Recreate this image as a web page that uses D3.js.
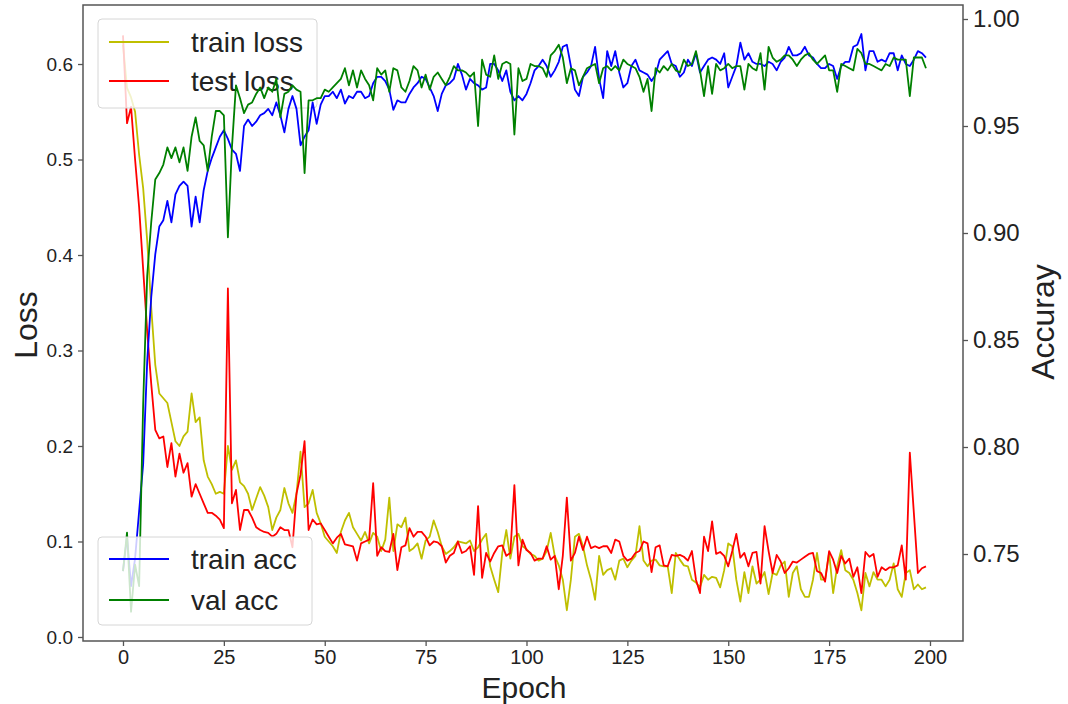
<!DOCTYPE html>
<html><head><meta charset="utf-8">
<script src="https://cdn.jsdelivr.net/npm/d3@7"></script>
<style>
body{margin:0;background:#fff;}
svg{display:block;}
text{font-family:"Liberation Sans",Arial,Helvetica,sans-serif;fill:#222;}
</style>
</head><body>
<svg id="chart" width="1068" height="704"></svg>
<script>
// ---- data ----
const epochs = d3.range(200);
const xTicks = [0, 25, 50, 75, 100, 125, 150, 175, 200];
const lossTicks = [0.0, 0.1, 0.2, 0.3, 0.4, 0.5, 0.6];
const accTicks = [0.75, 0.80, 0.85, 0.90, 0.95, 1.00];
const seriesNames = ["train loss", "test loss", "train acc", "val acc"];

const trainLoss = [
0.620,0.575,0.565,0.550,0.505,0.470,0.415,0.345,0.285,0.255,
0.250,0.245,0.225,0.205,0.200,0.210,0.215,0.255,0.225,0.230,
0.185,0.168,0.160,0.150,0.152,0.150,0.200,0.175,0.185,0.162,
0.158,0.150,0.133,0.145,0.157,0.148,0.136,0.112,0.125,0.133,
0.156,0.140,0.130,0.150,0.194,0.136,0.140,0.154,0.130,0.119,
0.105,0.100,0.095,0.088,0.110,0.122,0.130,0.115,0.108,0.101,
0.110,0.098,0.109,0.105,0.090,0.102,0.146,0.090,0.118,0.115,
0.125,0.090,0.093,0.098,0.082,0.101,0.105,0.122,0.110,0.095,
0.087,0.090,0.094,0.100,0.099,0.098,0.101,0.090,0.094,0.102,
0.108,0.074,0.060,0.047,0.088,0.112,0.082,0.105,0.108,0.095,
0.092,0.087,0.085,0.080,0.082,0.090,0.109,0.085,0.075,0.060,
0.028,0.060,0.105,0.108,0.095,0.075,0.060,0.039,0.085,0.065,
0.070,0.072,0.060,0.080,0.082,0.073,0.080,0.085,0.116,0.080,
0.074,0.080,0.081,0.075,0.074,0.074,0.046,0.088,0.081,0.075,
0.074,0.060,0.057,0.052,0.065,0.060,0.063,0.062,0.052,0.070,
0.098,0.095,0.060,0.037,0.068,0.046,0.074,0.056,0.060,0.068,
0.045,0.067,0.065,0.075,0.079,0.042,0.067,0.074,0.050,0.042,
0.042,0.060,0.088,0.060,0.060,0.088,0.046,0.074,0.091,0.070,
0.067,0.060,0.046,0.028,0.067,0.053,0.068,0.060,0.060,0.053,
0.060,0.077,0.050,0.042,0.067,0.070,0.050,0.055,0.050,0.052];

const testLoss = [
0.630,0.538,0.555,0.500,0.450,0.385,0.320,0.265,0.217,0.208,
0.210,0.178,0.203,0.168,0.192,0.172,0.182,0.147,0.160,0.150,
0.140,0.130,0.130,0.127,0.123,0.114,0.365,0.140,0.154,0.112,
0.133,0.133,0.125,0.115,0.112,0.110,0.109,0.105,0.108,0.115,
0.112,0.112,0.094,0.150,0.170,0.205,0.112,0.123,0.118,0.119,
0.112,0.105,0.098,0.104,0.108,0.097,0.096,0.095,0.080,0.098,
0.100,0.102,0.161,0.085,0.094,0.090,0.089,0.108,0.070,0.094,
0.096,0.114,0.105,0.110,0.110,0.105,0.096,0.100,0.099,0.095,
0.078,0.085,0.088,0.100,0.088,0.090,0.095,0.065,0.137,0.062,
0.088,0.079,0.088,0.095,0.096,0.085,0.088,0.159,0.075,0.102,
0.091,0.088,0.080,0.082,0.082,0.095,0.081,0.085,0.050,0.085,
0.146,0.080,0.088,0.105,0.091,0.105,0.093,0.095,0.093,0.095,
0.095,0.088,0.102,0.100,0.085,0.080,0.082,0.088,0.090,0.100,
0.098,0.068,0.094,0.096,0.075,0.074,0.086,0.085,0.086,0.084,
0.080,0.090,0.060,0.046,0.105,0.090,0.121,0.087,0.089,0.085,
0.074,0.090,0.108,0.083,0.088,0.074,0.088,0.089,0.056,0.116,
0.090,0.067,0.086,0.079,0.067,0.072,0.079,0.078,0.081,0.084,
0.087,0.088,0.069,0.067,0.058,0.090,0.081,0.067,0.085,0.077,
0.082,0.063,0.073,0.046,0.089,0.084,0.087,0.063,0.073,0.070,
0.073,0.073,0.075,0.096,0.060,0.193,0.130,0.067,0.072,0.074];

const trainAcc = [
0.742,0.758,0.735,0.748,0.770,0.792,0.840,0.870,0.890,0.903,
0.906,0.915,0.905,0.918,0.922,0.924,0.922,0.903,0.917,0.905,
0.920,0.929,0.935,0.940,0.945,0.948,0.944,0.939,0.937,0.929,
0.950,0.953,0.950,0.952,0.955,0.956,0.958,0.955,0.961,0.955,
0.947,0.958,0.964,0.958,0.941,0.945,0.948,0.961,0.951,0.960,
0.964,0.964,0.966,0.963,0.967,0.9605,0.964,0.963,0.966,0.966,
0.963,0.964,0.970,0.973,0.973,0.971,0.967,0.9575,0.962,0.961,
0.961,0.965,0.968,0.970,0.973,0.972,0.968,0.964,0.957,0.965,
0.969,0.970,0.972,0.979,0.974,0.967,0.972,0.970,0.969,0.967,
0.968,0.979,0.979,0.976,0.971,0.976,0.966,0.962,0.964,0.962,
0.965,0.970,0.976,0.978,0.981,0.978,0.973,0.976,0.980,0.987,
0.988,0.978,0.967,0.964,0.973,0.975,0.978,0.987,0.972,0.963,
0.985,0.978,0.985,0.975,0.968,0.970,0.978,0.981,0.976,0.975,
0.974,0.971,0.974,0.981,0.983,0.985,0.979,0.978,0.973,0.975,
0.981,0.978,0.984,0.975,0.978,0.981,0.982,0.981,0.979,0.984,
0.968,0.973,0.978,0.989,0.981,0.984,0.980,0.979,0.979,0.978,
0.980,0.979,0.976,0.980,0.982,0.987,0.983,0.983,0.984,0.987,
0.983,0.982,0.979,0.977,0.977,0.979,0.978,0.972,0.978,0.980,
0.980,0.987,0.988,0.993,0.976,0.985,0.985,0.980,0.981,0.980,
0.984,0.984,0.976,0.983,0.979,0.978,0.981,0.985,0.984,0.982];

const valAcc = [
0.742,0.760,0.723,0.745,0.735,0.820,0.880,0.905,0.925,0.928,
0.932,0.940,0.935,0.940,0.933,0.940,0.929,0.945,0.954,0.943,
0.941,0.929,0.945,0.957,0.957,0.955,0.898,0.940,0.969,0.963,
0.956,0.960,0.961,0.965,0.968,0.963,0.968,0.966,0.972,0.954,
0.965,0.966,0.969,0.967,0.966,0.928,0.962,0.962,0.963,0.963,
0.967,0.966,0.968,0.970,0.972,0.977,0.969,0.976,0.968,0.976,
0.972,0.969,0.962,0.977,0.974,0.976,0.966,0.977,0.976,0.968,
0.966,0.971,0.978,0.976,0.968,0.974,0.967,0.973,0.975,0.972,
0.969,0.973,0.978,0.976,0.976,0.975,0.973,0.975,0.950,0.981,
0.974,0.973,0.983,0.972,0.979,0.980,0.979,0.946,0.977,0.971,
0.972,0.979,0.978,0.978,0.977,0.973,0.983,0.985,0.988,0.982,
0.970,0.977,0.976,0.969,0.973,0.977,0.978,0.979,0.970,0.977,
0.978,0.976,0.978,0.976,0.981,0.979,0.978,0.977,0.973,0.966,
0.972,0.957,0.977,0.975,0.978,0.976,0.979,0.976,0.975,0.981,
0.978,0.979,0.985,0.976,0.964,0.978,0.965,0.979,0.976,0.977,
0.979,0.977,0.978,0.978,0.967,0.979,0.977,0.976,0.984,0.967,
0.987,0.982,0.980,0.981,0.983,0.983,0.981,0.978,0.981,0.983,
0.984,0.981,0.979,0.981,0.983,0.976,0.976,0.966,0.979,0.978,
0.977,0.976,0.986,0.984,0.979,0.979,0.978,0.977,0.976,0.979,
0.978,0.982,0.981,0.981,0.981,0.964,0.982,0.982,0.982,0.977];

// ---- layout ----
const svg = d3.select("#chart");
const L = 83, R = 963, T = 5, B = 641;
const x = d3.scaleLinear().domain([-9.91, 208.18]).range([L, R]);
const yL = d3.scaleLinear().domain([-0.0042, 0.6618]).range([B, T]);
const yR = d3.scaleLinear().domain([0.70935, 1.00654]).range([B, T]);
const colors = {"train loss":"#bfbf00","test loss":"#ff0000","train acc":"#0000ff","val acc":"#008000"};

svg.append("defs").append("clipPath").attr("id","clip")
  .append("rect").attr("x",L).attr("y",T).attr("width",R-L).attr("height",B-T);

const lineL = d3.line().x((d,i)=>x(epochs[i])).y(d=>yL(d));
const lineR = d3.line().x((d,i)=>x(epochs[i])).y(d=>yR(d));

function drawLegend(names, bx, by, bw, bh, rows) {
  const g = svg.append("g");
  g.append("rect").attr("x",bx).attr("y",by).attr("width",bw).attr("height",bh)
    .attr("rx",4).attr("fill","#fff").attr("fill-opacity",0.8)
    .attr("stroke","#d6d6d6").attr("stroke-width",1);
  names.forEach((n,i)=>{
    const cy = rows[i];
    g.append("line").attr("x1",bx+11).attr("x2",bx+71).attr("y1",cy).attr("y2",cy)
      .attr("stroke",colors[n]).attr("stroke-width",2);
    g.append("text").attr("x",bx+93).attr("y",cy+10).attr("font-size",28).text(n);
  });
}

// loss lines (primary axis)
const gL = svg.append("g").attr("clip-path","url(#clip)");
[["train loss",trainLoss],["test loss",testLoss]].forEach(([n,arr])=>{
  gL.append("path").datum(arr).attr("d",lineL).attr("fill","none")
    .attr("stroke",colors[n]).attr("stroke-width",1.8).attr("stroke-linejoin","round");
});
drawLegend(["train loss","test loss"], 98, 19, 219, 89, [42, 81]);

// accuracy lines (twin axis)
const gR = svg.append("g").attr("clip-path","url(#clip)");
[["train acc",trainAcc],["val acc",valAcc]].forEach(([n,arr])=>{
  gR.append("path").datum(arr).attr("d",lineR).attr("fill","none")
    .attr("stroke",colors[n]).attr("stroke-width",1.8).attr("stroke-linejoin","round");
});
drawLegend(["train acc","val acc"], 98, 537, 214, 88, [559, 600]);

// frame
svg.append("rect").attr("x",L).attr("y",T).attr("width",R-L).attr("height",B-T)
  .attr("fill","none").attr("stroke","#555").attr("stroke-width",1.5);

// axes
function styleAxis(g, fs){
  g.select(".domain").remove();
  g.selectAll(".tick line").attr("stroke","#555").attr("stroke-width",1.3);
  g.selectAll(".tick text").attr("font-size",fs).attr("fill","#222")
    .attr("font-family","'Liberation Sans',Arial,sans-serif");
}
const ax = svg.append("g").attr("transform",`translate(0,${B})`)
  .call(d3.axisBottom(x).tickValues(xTicks).tickFormat(d3.format("d")).tickSize(5).tickPadding(4));
styleAxis(ax, 20);
const ayl = svg.append("g").attr("transform",`translate(${L},0)`)
  .call(d3.axisLeft(yL).tickValues(lossTicks).tickFormat(d3.format(".1f")).tickSize(5).tickPadding(5));
styleAxis(ayl, 19);
const ayr = svg.append("g").attr("transform",`translate(${R},0)`)
  .call(d3.axisRight(yR).tickValues(accTicks).tickFormat(d3.format(".2f")).tickSize(5).tickPadding(5));
styleAxis(ayr, 24);

// axis titles
svg.append("text").attr("transform","translate(37,325) rotate(-90)")
  .attr("text-anchor","middle").attr("font-size",32).text("Loss");
svg.append("text").attr("x",524).attr("y",698)
  .attr("text-anchor","middle").attr("font-size",30).text("Epoch");
svg.append("text").attr("transform","translate(1054,322) rotate(-90)")
  .attr("text-anchor","middle").attr("font-size",32).text("Accuray");
</script>
</body></html>
